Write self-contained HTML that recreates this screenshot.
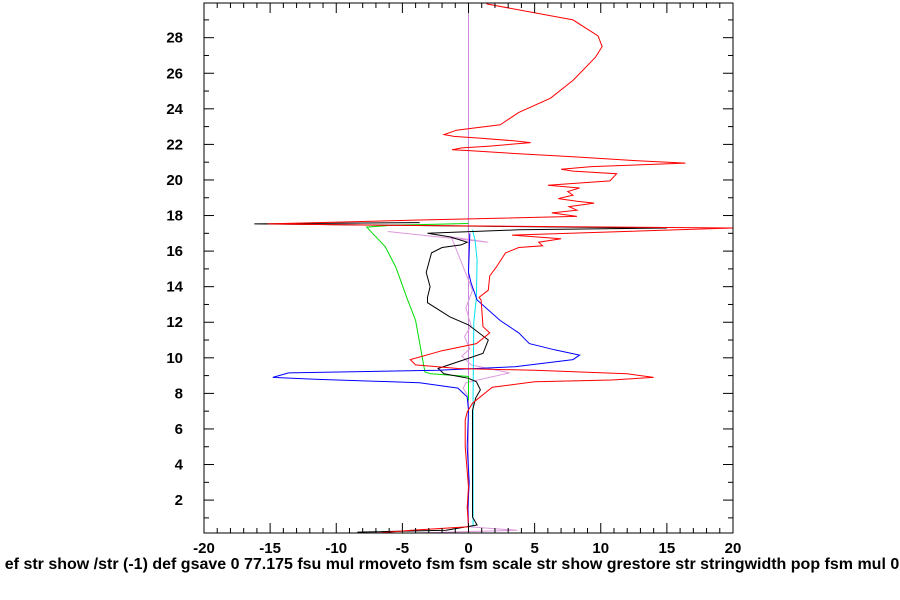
<!DOCTYPE html>
<html><head><meta charset="utf-8"><style>
html,body{margin:0;padding:0;background:#fff;width:900px;height:600px;overflow:hidden}
svg{display:block}
text{font-family:"Liberation Sans",sans-serif;font-weight:bold;fill:#000}
</style></head><body>
<svg id="c" width="900" height="600"></svg>
<script>
const xTicks=[-20,-15,-10,-5,0,5,10,15,20];
const yTicks=[2,4,6,8,10,12,14,16,18,20,22,24,26,28];
const redX=[1.36,7.9,9.8,10.1,9.6,7.9,6.2,3.8,2.4,0.2,-0.9,-1.85,-1.1,0.95,3.4,4.7,1.5,-0.5,-1.25,0.05,3.8,7.9,12.3,16.4,13.1,9.3,7.0,7.9,11.2,10.7,8.8,6.0,8.4,7.5,7.9,6.8,8.2,9.5,7.6,8.2,6.3,8.2,-3.7,-15.2,-6,20,3.3,7.0,5.3,5.6,3.8,2.8,2.1,1.6,1.5,0.8,0.95,1.1,1.6,0.6,-2.0,-4.4,-4.0,-0.8,5.0,12.0,14.0,10.8,5.0,1.8,0.8,0.3,-0.1,-0.25,-0.25,0,-0.1,0,-4.3,-6.9];
const redY=[29.9,29.0,28.1,27.5,26.9,25.6,24.6,23.8,23.1,22.9,22.8,22.55,22.45,22.35,22.2,22.1,21.9,21.8,21.7,21.65,21.47,21.3,21.1,20.95,20.85,20.75,20.6,20.5,20.35,19.95,19.85,19.7,19.55,19.35,19.15,18.95,18.8,18.7,18.5,18.3,18.15,17.95,17.75,17.53,17.45,17.3,16.9,16.7,16.5,16.3,16.2,15.9,15.1,14.6,13.8,13.4,13.25,11.75,11.4,10.8,10.4,9.9,9.6,9.4,9.3,9.1,8.9,8.75,8.65,8.35,7.75,7.45,6.95,6.5,5.0,2.75,1.6,0.5,0.3,0.15];
const blueX=[0.1,0,0.2,0.65,2.4,3.8,4.6,6.5,8.4,7.9,3.5,-2.3,-13.6,-14.8,-11.6,-3.7,-0.8,-0.1,0,-0.1,0.05,-0.05,0];
const blueY=[17.0,14.8,14.2,13.25,12.1,11.4,10.8,10.45,10.15,9.9,9.5,9.3,9.15,8.9,8.8,8.6,8.3,7.8,7.05,5.0,3.0,1.5,0.5];
const blackX=[-3.7,-16.2,7.9,15.0,3.8,-3.1,-1.4,-0.1,-0.55,-2.0,-2.8,-3.2,-2.9,-3.1,-3.1,-1.4,0,1.5,1.1,-0.3,-2.3,-1.85,0,0.6,0.9,0.55,0.3,0.3,0.3,0.65,-1.7,-8.4];
const blackY=[17.6,17.53,17.35,17.3,17.2,17.0,16.8,16.5,16.35,16.2,15.9,14.8,14.0,13.4,13.1,12.3,11.85,11.0,10.25,9.9,9.4,9.1,8.85,8.65,8.2,7.75,7.05,3.5,1.05,0.6,0.3,0.2];
const greenX=[0,-5.8,-7.7,-6.3,-5.5,-4.65,-4.0,-3.3,-2.85,0,0];
const greenY=[17.55,17.45,17.35,16.25,15.1,13.35,12.1,9.2,9.1,8.95,7.6];
const cyanX=[0.3,0.5,0.65,0.6,0.4,0.35,0.35,0.35];
const cyanY=[17.2,16.6,15.5,13.4,12.0,8.0,3.0,0.5];
const plumX=[-6.1,1.5,-1.3,0.3,-0.2,0.2,-0.3,0.1,-0.5,0.2,3.1,-0.2,-0.4,0,0,3.7,-4.1];
const plumY=[17.1,16.5,16.8,13.8,12.8,11.8,11.2,10.5,10.1,9.6,9.15,8.6,8.3,7.8,0.5,0.3,0.15];
const refX=[0,0];const refY=[0.15,29.95];

const L=204,R=733,T=3,B=533,ymin=0.15,ymax=29.95;
const sx=v=>L+(v+20)/40*(R-L);
const sy=v=>B-(v-ymin)/(ymax-ymin)*(B-T);
const svg=document.getElementById('c');const NS='http://www.w3.org/2000/svg';
function mk(t,a){const e=document.createElementNS(NS,t);for(const k in a)e.setAttribute(k,a[k]);svg.appendChild(e);return e;}
function series(xs,ys,col,name){const p=mk('polyline',{points:xs.map((x,i)=>sx(x).toFixed(1)+','+sy(ys[i]).toFixed(1)).join(' '),fill:'none',stroke:col,'stroke-width':1});

}
series(refX,refY,'#cc88dd','zero-line');
series(plumX,plumY,'#dd99dd','plum-series');
series(greenX,greenY,'#00dd00','green-series');
series(cyanX,cyanY,'#00e5ee','cyan-series');
series(blackX,blackY,'#000','black-series');
series(blueX,blueY,'#0000ff','blue-series');
series(redX,redY,'#ff0000','red-series');
const fr=mk('rect',{x:L,y:T,width:R-L,height:B-T,fill:'none',stroke:'#000','stroke-width':1});


for(let v=-20;v<=20;v++){const maj=v%5===0,len=maj?10:5,x=sx(v);
mk('line',{x1:x,y1:B,x2:x,y2:B-len,stroke:'#000'});mk('line',{x1:x,y1:T,x2:x,y2:T+len,stroke:'#000'});}
for(let v=1;v<=29;v++){const maj=v%2===0,len=maj?10:5,y=sy(v);
mk('line',{x1:L,y1:y,x2:L+len,y2:y,stroke:'#000'});mk('line',{x1:R,y1:y,x2:R-len,y2:y,stroke:'#000'});}
xTicks.forEach(v=>{const t=mk('text',{x:sx(v),y:553,'text-anchor':'middle','font-size':15});t.textContent=v;

});
yTicks.forEach(v=>{const t=mk('text',{x:183,y:sy(v)+5,'text-anchor':'end','font-size':15});t.textContent=v;

});
const f=mk('text',{x:452,y:569,'text-anchor':'middle','font-size':16});
f.textContent='ef str show /str (-1) def gsave 0 77.175 fsu mul rmoveto fsm fsm scale str show grestore str stringwidth pop fsm mul 0';


</script>
</body></html>
